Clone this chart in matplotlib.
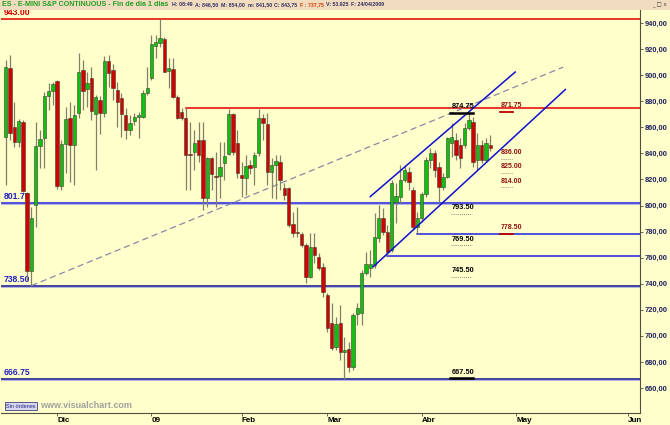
import numpy as np
import matplotlib
matplotlib.use("Agg")
import matplotlib.pyplot as plt
from matplotlib.patches import Rectangle

# daily OHLC (ES continuous, 13-Nov-2008 .. 24-Apr-2009)
opens = [852.8, 905.2, 860.5, 849.0, 864.3, 809.8, 750.0, 800.4, 845.7, 851.5,
         884.3, 888.0, 895.8, 815.0, 847.2, 867.4, 846.4, 870.7, 904.0, 889.1,
         897.6, 870.2, 880.9, 871.2, 911.1, 904.0, 889.0, 882.2, 869.4, 857.9,
         864.8, 867.6, 868.2, 886.0, 898.0, 922.6, 924.9, 927.7, 903.2, 904.7,
         883.5, 872.0, 866.9, 839.2, 841.2, 850.2, 850.2, 806.0, 836.2, 822.9,
         822.9, 832.3, 839.2, 869.9, 847.7, 823.4, 820.8, 831.1, 829.8, 840.0,
         866.9, 862.5, 826.0, 831.0, 833.6, 813.2, 813.2, 785.8, 780.0, 778.1,
         769.7, 745.4, 768.4, 760.8, 752.6, 731.4, 709.6, 691.7, 710.1, 687.4,
         689.7, 676.4, 716.8, 717.3, 748.0, 751.8, 754.3, 774.8, 790.2, 779.9,
         765.9, 803.0, 806.8, 819.6, 826.0, 811.9, 783.8, 790.2, 808.8, 834.9,
         840.0, 829.8, 814.5, 822.1, 847.7, 850.2, 846.4, 846.4, 859.2, 864.3,
         834.9, 846.4, 834.9, 846.5]
highs = [911.6, 915.5, 879.7, 866.0, 865.6, 810.6, 799.0, 864.3, 858.0, 887.3,
         893.7, 895.0, 896.3, 850.2, 875.8, 879.7, 877.0, 916.7, 911.6, 902.7,
         906.5, 884.8, 884.0, 914.7, 915.5, 908.6, 895.0, 886.0, 875.0, 869.4,
         870.7, 871.5, 888.6, 906.5, 930.8, 930.8, 943.0, 929.5, 912.9, 912.9,
         884.8, 874.5, 874.75, 864.3, 857.9, 864.3, 864.3, 837.5, 837.5, 841.3,
         849.0, 849.0, 873.8, 870.7, 857.9, 833.6, 838.7, 835.0, 841.3, 873.8,
         870.0, 870.7, 836.2, 838.7, 838.7, 817.0, 814.5, 795.3, 799.1, 780.0,
         771.0, 778.7, 778.7, 763.3, 755.6, 732.7, 725.0, 714.7, 723.7, 699.4,
         695.6, 717.3, 725.0, 750.5, 764.6, 766.0, 794.0, 800.4, 797.8, 785.0,
         819.6, 817.0, 831.0, 831.0, 829.8, 814.5, 795.3, 810.0, 837.5, 843.9,
         842.6, 833.6, 824.7, 852.8, 863.0, 855.4, 851.5, 863.0, 871.2, 868.2,
         855.4, 850.2, 851.5, 854.0]
lows = [815.7, 850.0, 845.0, 845.0, 810.6, 742.9, 738.5, 783.8, 828.5, 828.5,
        873.3, 877.0, 812.4, 811.9, 824.7, 818.3, 815.7, 866.9, 873.3, 875.8,
        865.6, 827.2, 854.8, 868.0, 891.2, 881.0, 860.5, 852.8, 851.0, 854.1,
        861.8, 851.5, 866.9, 884.8, 896.3, 912.9, 921.9, 902.2, 889.9, 882.2,
        866.4, 865.6, 811.9, 811.9, 827.2, 833.6, 796.6, 799.1, 811.9, 799.1,
        805.5, 819.6, 838.7, 838.7, 820.8, 806.8, 808.1, 824.0, 815.7, 838.0,
        850.0, 815.7, 805.5, 805.0, 811.9, 804.2, 783.8, 776.1, 776.1, 768.4,
        740.3, 744.1, 755.6, 750.5, 730.1, 703.2, 689.2, 689.2, 681.5, 666.75,
        672.6, 673.8, 708.3, 708.3, 746.7, 745.0, 751.8, 772.3, 777.4, 761.0,
        764.6, 786.3, 801.7, 818.3, 811.9, 781.2, 778.5, 787.5, 806.8, 828.5,
        822.1, 801.7, 811.9, 820.8, 837.5, 834.9, 828.5, 843.9, 857.9, 829.8,
        827.2, 832.3, 833.6, 841.5]
closes = [906.0, 855.9, 849.0, 864.8, 811.4, 750.0, 790.2, 845.7, 851.3, 884.3,
          888.0, 893.0, 815.0, 847.2, 866.4, 846.4, 869.4, 902.7, 888.1, 894.2,
          872.8, 883.5, 871.2, 911.1, 901.4, 889.9, 879.7, 870.2, 857.9, 863.0,
          868.2, 869.4, 886.0, 889.9, 923.6, 925.2, 928.2, 902.7, 905.2, 883.5,
          866.9, 866.9, 838.7, 838.5, 848.2, 838.7, 806.0, 836.2, 823.9, 822.1,
          829.8, 838.2, 869.9, 841.3, 824.7, 820.8, 830.6, 828.5, 838.7, 866.9,
          863.5, 826.0, 831.0, 834.0, 819.6, 808.1, 785.0, 779.2, 779.0, 769.7,
          745.4, 768.4, 762.0, 751.8, 733.9, 705.8, 690.4, 709.1, 687.9, 689.2,
          676.4, 716.0, 721.1, 748.0, 755.1, 755.0, 775.6, 790.2, 779.9, 764.6,
          817.0, 807.3, 819.6, 827.2, 818.3, 783.8, 790.2, 808.8, 834.9, 840.0,
          827.2, 814.5, 822.1, 851.5, 852.8, 838.7, 836.2, 859.2, 865.6, 833.6,
          846.4, 834.9, 847.7, 843.75]

month_pos = [12, 34, 55, 75, 97, 119, 145]
month_labels = ["Dic", "09", "Feb", "Mar", "Abr", "May", "Jun"]
price_ticks = [660, 680, 700, 720, 740, 760, 780, 800, 820, 840, 860, 880, 900, 920, 940]

# horizontal levels: (price, first bar)
levels_red = [(943.00, None), (874.75, 42)]
levels_blue = [(801.75, None), (778.50, 96), (761.00, 89), (738.50, None), (666.75, None)]
left_labels = [("943.00", 943.00, "#d00000"), ("801.75", 801.75, "#2020c0"),
               ("738.50", 738.50, "#2020c0"), ("666.75", 666.75, "#2020c0")]

# trend lines: (bar, price) start / end
dashed_line = [(6, 738.5), (130, 906.2)]
channel_up = [(85, 806.8), (118.8, 902.4)]
channel_dn = [(85.7, 753.0), (130.5, 889.0)]

# target labels
black_targets = [("874.75", 871.2, "solid"), ("793.50", 793.5, "dot"), ("769.50", 769.5, "dot"),
                 ("745.50", 745.5, "dot"), ("667.50", 667.5, "solid")]
red_targets = [("871.75", 871.75, "solid"), ("836.00", 836.0, "dot"), ("825.00", 825.0, "dot"),
               ("814.00", 814.0, "dot"), ("778.50", 778.5, "solid")]

# header pieces
header_title = "ES - E-MINI S&P CONTINUOUS - Fin de dia 1 dias"
header = [("H: 08:49", "#303060"), ("A: 846,50", "#303060"), ("M: 854,00", "#303060"),
          ("m: 841,50", "#303060"), ("C: 843,75", "#303060"), ("F : 737,75", "#d04000"),
          ("V: 53.925", "#303060"), ("F: 24/04/2009", "#303060")]

bg = "#ffffcc"
fig = plt.figure(figsize=(6.7, 4.25), dpi=100, facecolor=bg)
ax = fig.add_axes([1 / 670, 12 / 425, 639 / 670, 403 / 425], facecolor=bg)

x = np.arange(len(opens))
o = np.array(opens); h = np.array(highs); l = np.array(lows); c = np.array(closes)
up = c >= o

ax.vlines(x, l, h, color="#80806a", linewidth=0.9, zorder=3)
body_lo = np.minimum(o, c)
body_h = np.maximum(np.abs(c - o), 0.8)
cols = np.where(up, "#10c010", "#d00000")
ax.bar(x, body_h, bottom=body_lo, width=0.78, color=cols, edgecolor="#404030",
       linewidth=0.4, zorder=4)

# horizontal levels
for p, start in levels_red:
    xs = -2 if start is None else start
    ax.plot([xs, 150], [p, p], color="#e00000", linewidth=1.1, zorder=2)
for p, start in levels_blue:
    xs = -2 if start is None else start
    col = "#101090" if p in (738.50, 666.75) else "#2020e0"
    ax.plot([xs, 150], [p, p], color=col, linewidth=1.1, zorder=2)
    if start is None:
        ax.plot([xs, 150], [p - 0.9, p - 0.9], color="#a8a8e8", linewidth=0.6, zorder=1)

for txt, p, col in left_labels:
    ax.text(-0.5, p + 1.5, txt, color=col, fontsize=6.2, fontweight="bold",
            family="Liberation Sans", va="bottom", ha="left", zorder=2)

# trend lines
(x0, y0), (x1, y1) = dashed_line
ax.plot([x0, x1], [y0, y1], color="#8888a8", linewidth=0.9, dashes=(5, 3), zorder=2)
for seg in (channel_up, channel_dn):
    (x0, y0), (x1, y1) = seg
    ax.plot([x0, x1], [y0, y1], color="#1010d0", linewidth=1.1, zorder=5)

# targets
for txt, p, style in black_targets:
    ax.text(103.9, p + 2.0, txt, color="black", fontsize=5.3, fontweight="bold",
            family="Liberation Sans", va="bottom", ha="left", zorder=6)
    if style == "solid":
        ax.plot([103.5, 109.0], [p, p], color="black", linewidth=1.8, zorder=6)
    else:
        ax.plot([103.8, 108.8], [p, p], color="#606060", linewidth=0.6, linestyle=(0, (1, 1.5)), zorder=6)
for txt, p, style in red_targets:
    ax.text(115.4, p + 2.0, txt, color="#901010", fontsize=5.0, fontweight="bold",
            family="Liberation Sans", va="bottom", ha="left", zorder=6)
    if style == "solid":
        ax.plot([115.2, 118.2], [p, p], color="#c00000", linewidth=1.3, zorder=6)
    else:
        ax.plot([115.4, 118.0], [p, p], color="#806060", linewidth=0.6, linestyle=(0, (1, 1.5)), zorder=6)

ax.set_xlim(-1.09, 147.9)
ax.set_ylim(640.8, 950.0)
for s in ("left", "top"):
    ax.spines[s].set_visible(False)
ax.spines["right"].set_color("#505040")
ax.spines["bottom"].set_color("#505040")
ax.yaxis.tick_right()
ax.set_yticks(price_ticks)
ax.set_yticklabels([f"{v:.2f}".replace(".", ",") for v in price_ticks])
ax.tick_params(axis="y", length=2.5, width=0.6, color="#505040", pad=0.8,
               labelsize=5.4, labelcolor="#202060")
ax.set_xticks(month_pos)
ax.set_xticklabels(month_labels, ha="left")
ax.tick_params(axis="x", length=2.5, width=0.6, color="#505040", pad=0.5,
               labelsize=5.8)
for lab in ax.get_xticklabels() + ax.get_yticklabels():
    lab.set_family("Liberation Sans")
    lab.set_fontweight("bold")

# title bar
fig.patches.append(Rectangle((0, 415 / 425), 1, 10 / 425, transform=fig.transFigure,
                             facecolor="#f2dcc0", edgecolor="none", zorder=0))
renderer = fig.canvas.get_renderer()
t = fig.text(2 / 670, 420 / 425, header_title, color="#20a020", fontsize=5.1,
             family="Liberation Sans", fontweight="bold", va="center")
xpix = 2.0 + t.get_window_extent(renderer).width + 4
for txt, col in header:
    t = fig.text(xpix / 670, 420 / 425, txt, color=col, fontsize=3.8,
                 family="Liberation Sans", fontweight="bold", va="center")
    xpix += t.get_window_extent(renderer).width + 2.5
fig.text(652 / 670, 420 / 425, "_ \u25a1 x", color="#404040", fontsize=4.0, va="center")

# footer
fig.text(6 / 670, 19 / 425, "Sin órdenes", fontsize=4.0, family="Liberation Sans", color="#202080",
         va="center", bbox=dict(boxstyle="square,pad=0.25", facecolor="#d8d8f0",
                                edgecolor="#404080", linewidth=0.6))
fig.text(40 / 670, 19 / 425, "www.visualchart.com", fontsize=6.5, family="Liberation Sans",
         color="#a0a0a0", fontweight="bold", va="center")

fig.savefig("out.png", dpi=100, facecolor=bg)
